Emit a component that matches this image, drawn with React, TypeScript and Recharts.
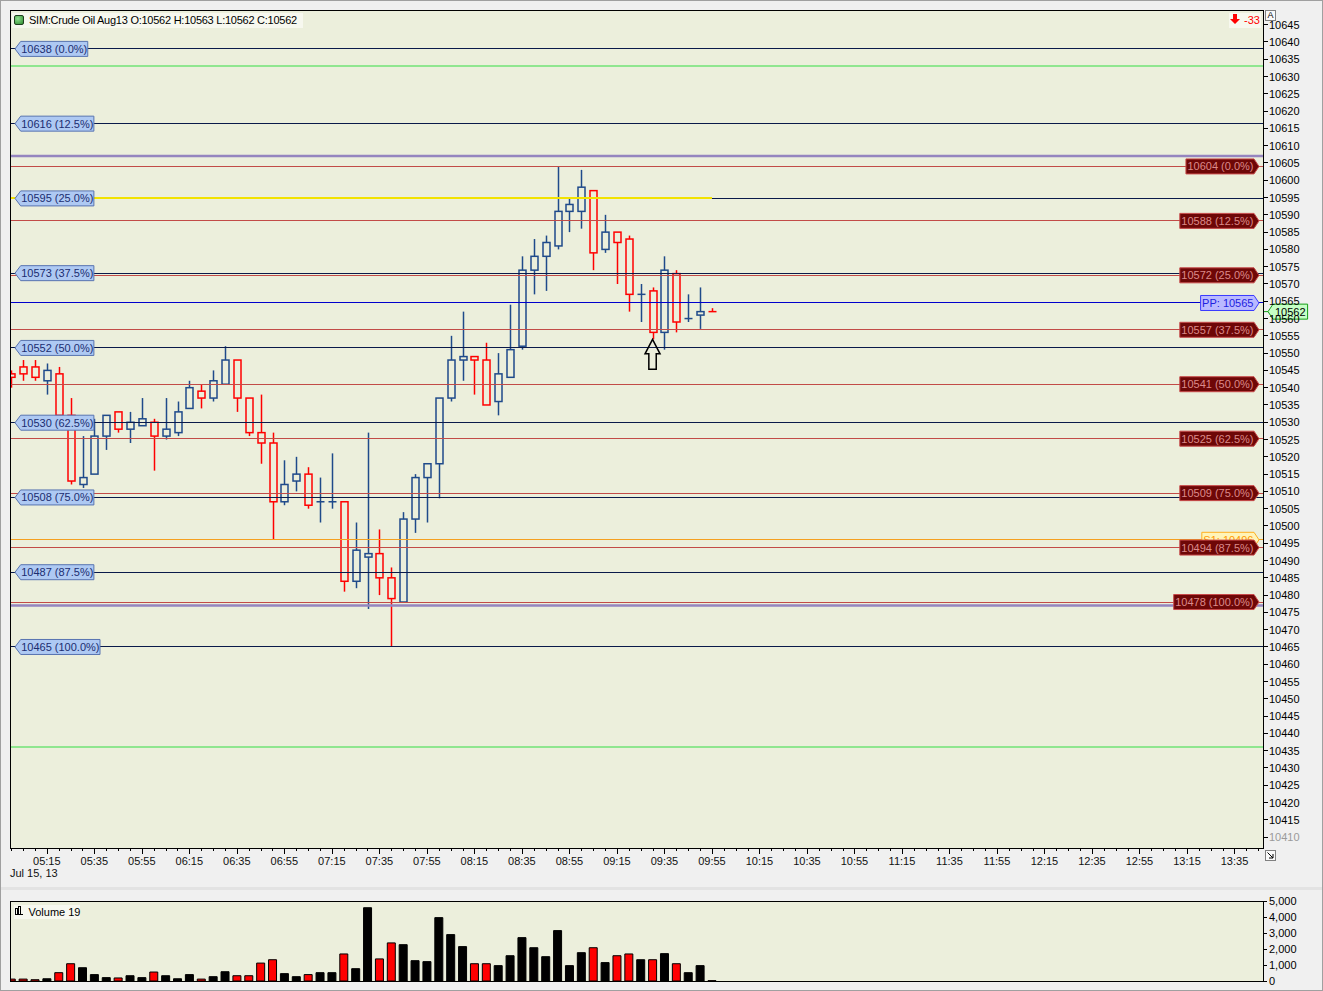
import React from 'react';
import { ComposedChart, Bar, XAxis, YAxis, ReferenceLine, ReferenceDot, Cell } from 'recharts';

const FONT = '"Liberation Sans", Arial, sans-serif';

// ---------- DATA ----------
const opens = [10544,10546,10546,10542,10544,10532,10512,10515,10526,10533,10528,10529,10530,10526,10527,10534,10539,10537,10541,10548,10537,10527,10524,10507,10513,10515,10507,10507,10507,10484,10491,10492,10485,10478,10502,10514,10518,10537,10548,10549,10548,10536,10543,10552,10574,10578,10581,10591,10591,10597,10580,10585,10583,10567,10568,10556,10573,10560,10561,10562];
const highs = [10545,10548,10548,10547,10546,10537,10526,10531,10532,10533,10533,10537,10531,10537,10536,10542,10541,10545,10552,10548,10537,10538,10527,10519,10520,10517,10514,10521,10507,10501,10527,10499,10488,10504,10515,10518,10537,10555,10562,10549,10553,10550,10564,10578,10583,10584,10604,10595,10603,10597,10590,10585,10584,10570,10569,10578,10574,10567,10569,10563];
const lows = [10540,10542,10542,10538,10531,10512,10511,10515,10522,10527,10524,10529,10516,10525,10526,10534,10534,10536,10541,10533,10526,10518,10496,10506,10510,10505,10501,10505,10481,10482,10476,10480,10465,10478,10498,10501,10508,10536,10542,10538,10535,10532,10543,10551,10567,10568,10580,10585,10586,10574,10579,10570,10562,10559,10554,10551,10556,10559,10557,10562];
const closes = [10543,10544,10543,10545,10532,10513,10514,10526,10532,10528,10530,10531,10526,10528,10533,10540,10537,10542,10548,10537,10527,10524,10507,10512,10515,10506,10507,10507,10484,10493,10492,10485,10479,10502,10514,10518,10537,10548,10549,10548,10535,10544,10551,10574,10578,10582,10591,10593,10598,10579,10585,10582,10567,10567,10556,10574,10559,10560,10562,10562];
const volumes = [120,120,80,140,520,1080,830,400,210,190,330,210,560,330,140,400,120,270,580,330,330,1120,1330,460,270,400,520,520,1690,770,4580,1380,2380,2270,1270,1210,3960,2900,2150,1080,1080,960,1580,2710,2080,1520,3150,960,1770,2080,1150,1580,1690,1330,1330,1710,1080,520,960,19];

const timeLabels = ['05:15','05:35','05:55','06:15','06:35','06:55','07:15','07:35','07:55','08:15','08:35','08:55','09:15','09:35','09:55','10:15','10:35','10:55','11:15','11:35','11:55','12:15','12:35','12:55','13:15','13:35'];
const firstLabelIndex = 3;
const labelEvery = 4;
const dateLabel = 'Jul 15, 13';

const leftFibLevels = [10638, 10616.375, 10594.75, 10573.125, 10551.5, 10529.875, 10508.25, 10486.625, 10465];
const leftFibLabels = ['10638', '10616', '10595', '10573', '10552', '10530', '10508', '10487', '10465'];
const rightFibLevels = [10604, 10588.25, 10572.5, 10556.75, 10541, 10525.25, 10509.5, 10493.75, 10478];
const rightFibLabels = ['10604', '10588', '10572', '10557', '10541', '10525', '10509', '10494', '10478'];
const fibPcts = ['0.0', '12.5', '25.0', '37.5', '50.0', '62.5', '75.0', '87.5', '100.0'];
const pivotLevel = 10564.5;
const pivotLabel = '10565';
const s1Level = 10496;
const s1Label = '10496';
const greenLevels = [10633, 10436];
const purpleLevels = [10607, 10477];
const yellowLevel = 10595;
const lastPrice = 10562;
const markerBar = 54;
const markerPrice = 10554;
const headerText = 'SIM:Crude Oil Aug13 O:10562 H:10563 L:10562 C:10562';
const pnlText = '-33';
const volumeTitle = 'Volume 19';

const priceTicks = Array.from({ length: 48 }, (_, k) => 10410 + k * 5);
const volumeTicks = [0, 1000, 2000, 3000, 4000, 5000];
const xTicks = Array.from({ length: 106 }, (_, k) => k);

// ---------- STYLE ----------
const BG = '#ecefdc';
const NAVY = '#0a1a4a';
const FIBRED = '#c24b47';
const UPC = '#1f4a8a';
const DNC = '#ff0000';
const X_DOMAIN: [number, number] = [-0.1, 105.4];
const Y_DOMAIN: [number, number] = [10406.85, 10649.25];

const lastIdx = opens.length - 1;
const isDown = (o: number, c: number, i: number) => c < o || (c === o && i === lastIdx);

const candles = opens.map((o, i) => ({
  x: i,
  open: o,
  high: highs[i],
  low: lows[i],
  close: closes[i],
  range: [lows[i], highs[i]],
  volume: volumes[i],
}));

const CW: Record<string, number> = { ' ': 3.06, '(': 3.66, ')': 3.66, '.': 3.06, '%': 9.78, 'P': 7.34, 'S': 7.34, ':': 3.06 };
const textW = (s: string) => s.split('').reduce((a, c) => a + (CW[c] ?? 6.12), 0);

const CandleShape = (props: any) => {
  const { x, y, width, height, payload } = props;
  if (x == null || !payload) return null;
  const top = Math.min(y, y + height);
  const h = Math.abs(height);
  const span = payload.high - payload.low;
  const ppu = span > 0 ? h / span : 0;
  const py = (p: number) => top + (payload.high - p) * ppu;
  const cx = Math.round(x + width / 2) + 0.5;
  const color = isDown(payload.open, payload.close, payload.x) ? DNC : UPC;
  const yo = py(payload.open);
  const yc = py(payload.close);
  const bTop = Math.min(yo, yc);
  const bBot = Math.max(yo, yc);
  const yH = py(payload.high);
  const yL = py(payload.low);
  const sw = 1.5;
  return (
    <g>
      {yH < bTop && <line x1={cx} x2={cx} y1={yH} y2={bTop} stroke={color} strokeWidth={sw} />}
      {yL > bBot && <line x1={cx} x2={cx} y1={bBot} y2={yL} stroke={color} strokeWidth={sw} />}
      {bBot - bTop < 1 ? (
        <line x1={cx - 4} x2={cx + 4} y1={bTop} y2={bTop} stroke={color} strokeWidth={sw} />
      ) : (
        <rect x={cx - 3.5} y={bTop} width={7} height={bBot - bTop} fill="none" stroke={color} strokeWidth={sw} />
      )}
    </g>
  );
};

const LeftTag = (props: any) => {
  const { viewBox, tagText } = props;
  if (!viewBox) return null;
  const x0 = viewBox.x;
  const yc = viewBox.y;
  const w = textW(tagText) + 1;
  const bx = x0 + 10.7;
  const pts = `${x0 + 5},${yc} ${bx},${yc - 7.5} ${bx + w},${yc - 7.5} ${bx + w},${yc + 7.5} ${bx},${yc + 7.5}`;
  return (
    <g>
      <polygon points={pts} fill="#aec9f3" stroke="#5874b0" strokeWidth={1} />
      <text x={bx + 0.5} y={yc + 4} fontSize={11} fontFamily={FONT} fill="#1b2d70">{tagText}</text>
    </g>
  );
};

const RightTag = (props: any) => {
  const { viewBox, tagText, fill, stroke, color } = props;
  if (!viewBox) return null;
  const xr = viewBox.x + viewBox.width;
  const yc = viewBox.y;
  const w = textW(tagText) + 2;
  const tip = xr - 4;
  const br = xr - 9;
  const bl = br - w;
  const pts = `${bl},${yc - 7.5} ${br},${yc - 7.5} ${tip},${yc} ${br},${yc + 7.5} ${bl},${yc + 7.5}`;
  return (
    <g>
      <polygon points={pts} fill={fill} stroke={stroke} strokeWidth={1} />
      <text x={bl + 1.5} y={yc + 4} fontSize={11} fontFamily={FONT} fill={color}>{tagText}</text>
    </g>
  );
};

const PriceTag = (props: any) => {
  const { viewBox, tagText } = props;
  if (!viewBox) return null;
  const xa = viewBox.x + viewBox.width;
  const yc = viewBox.y;
  const tipX = xa + 5;
  const bl = tipX + 5;
  const w = textW(tagText) + 4;
  const pts = `${tipX},${yc} ${bl},${yc - 7.5} ${bl + w},${yc - 7.5} ${bl + w},${yc + 7.5} ${bl},${yc + 7.5}`;
  return (
    <g>
      <line x1={xa} x2={tipX} y1={yc} y2={yc} stroke="#129a12" strokeWidth={1} />
      <polygon points={pts} fill="#c6ffc6" stroke="#149f14" strokeWidth={1} />
      <text x={bl + 2} y={yc + 4} fontSize={11} fontFamily={FONT} fill="#000">{tagText}</text>
    </g>
  );
};

const ArrowShape = (props: any) => {
  const { cx, cy } = props;
  if (cx == null || cy == null) return null;
  const pts = [
    [cx, cy], [cx + 7.5, cy + 14.5], [cx + 3.7, cy + 14.5], [cx + 3.7, cy + 30],
    [cx - 3.7, cy + 30], [cx - 3.7, cy + 14.5], [cx - 7.5, cy + 14.5],
  ].map((p) => p.join(',')).join(' ');
  return <polygon points={pts} fill="none" stroke="#000" strokeWidth={1.5} />;
};

const PriceTick = (props: any) => {
  const { x, y, payload } = props;
  return (
    <text x={x} y={y} dy={4} fontSize={11} fontFamily={FONT} textAnchor="start" fill={payload.value === priceTicks[0] ? '#9a9a9a' : '#000'}>
      {payload.value}
    </text>
  );
};

const VolumeTick = (props: any) => {
  const { x, y, payload } = props;
  return (
    <text x={x} y={y} dy={4} fontSize={11} fontFamily={FONT} textAnchor="start" fill="#000">
      {Number(payload.value).toLocaleString('en-US')}
    </text>
  );
};

const TimeTick = (props: any) => {
  const { x, y, payload } = props;
  const i = payload.value;
  const major = i >= firstLabelIndex && (i - firstLabelIndex) % labelEvery === 0;
  const label = major ? timeLabels[(i - firstLabelIndex) / labelEvery] : null;
  const lx = Math.round(x) + 0.5;
  return (
    <g>
      <line x1={lx} x2={lx} y1={y} y2={y + (major ? 6 : 3)} stroke="#000" strokeWidth={1} />
      {label && (
        <text x={x} y={y + 17} textAnchor="middle" fontSize={11} fontFamily={FONT} fill="#111">{label}</text>
      )}
    </g>
  );
};

export default function App() {
  return (
    <div style={{ position: 'absolute', left: 0, top: 0, width: 1323, height: 991, background: '#f0f0f0', overflow: 'hidden', fontFamily: FONT }}>
      {/* plot backgrounds */}
      <div style={{ position: 'absolute', left: 10, top: 10, width: 1253, height: 838, background: BG }} />
      <div style={{ position: 'absolute', left: 10, top: 901, width: 1253, height: 80, background: BG }} />
      <div style={{ position: 'absolute', left: 0, top: 887, width: 1323, height: 3, background: '#e3e3e3' }} />

      {/* price chart */}
      <div style={{ position: 'absolute', left: 0, top: 0 }}>
        <ComposedChart width={1323} height={900} data={candles} margin={{ top: 10, left: 10, right: 4, bottom: 12 }}>
          <XAxis
            dataKey="x"
            type="number"
            domain={X_DOMAIN}
            allowDataOverflow
            ticks={xTicks}
            interval={0}
            tickLine={false}
            tickSize={0}
            tickMargin={0}
            axisLine={false}
            height={40}
            tick={<TimeTick />}
          />
          <YAxis
            orientation="right"
            type="number"
            domain={Y_DOMAIN}
            allowDataOverflow
            ticks={priceTicks}
            interval={0}
            width={56}
            tickSize={5}
            tickMargin={1}
            axisLine={false}
            tickLine={{ stroke: '#000', shapeRendering: 'crispEdges' }}
            tick={<PriceTick />}
          />
          {greenLevels.map((lv) => (
            <ReferenceLine key={'g' + lv} y={lv} stroke="#8fe68f" strokeWidth={2} shapeRendering="crispEdges" />
          ))}
          {purpleLevels.map((lv) => (
            <ReferenceLine key={'p' + lv} y={lv} stroke="#9585bf" strokeWidth={2.5} />
          ))}
          {leftFibLevels.map((lv) => (
            <ReferenceLine key={'lf' + lv} y={lv} stroke={NAVY} strokeWidth={1} shapeRendering="crispEdges" />
          ))}
          {rightFibLevels.map((lv) => (
            <ReferenceLine key={'rf' + lv} y={lv} stroke={FIBRED} strokeWidth={1} shapeRendering="crispEdges" />
          ))}
          <ReferenceLine y={pivotLevel} stroke="#0000cc" strokeWidth={1} shapeRendering="crispEdges" />
          <ReferenceLine y={s1Level} stroke="#f5a020" strokeWidth={1} shapeRendering="crispEdges" />
          <ReferenceLine
            segment={[{ x: X_DOMAIN[0], y: yellowLevel }, { x: lastIdx, y: yellowLevel }]}
            stroke="#f2e200"
            strokeWidth={2}
            shapeRendering="crispEdges"
          />

          <Bar dataKey="range" barSize={8} shape={<CandleShape />} isAnimationActive={false} />

          <ReferenceDot x={markerBar} y={markerPrice} shape={<ArrowShape />} />

          {leftFibLevels.map((lv, k) => (
            <ReferenceLine key={'lt' + lv} y={lv} stroke="none" label={<LeftTag tagText={`${leftFibLabels[k]} (${fibPcts[k]}%)`} />} />
          ))}
          <ReferenceLine
            y={s1Level}
            stroke="none"
            label={<RightTag tagText={`S1: ${s1Label}`} fill="#fff4b8" stroke="#ffb020" color="#ff9900" />}
          />
          <ReferenceLine
            y={pivotLevel}
            stroke="none"
            label={<RightTag tagText={`PP: ${pivotLabel}`} fill="#b9b9ff" stroke="#3a3aff" color="#2020e0" />}
          />
          {rightFibLevels.map((lv, k) => (
            <ReferenceLine
              key={'rt' + lv}
              y={lv}
              stroke="none"
              label={<RightTag tagText={`${rightFibLabels[k]} (${fibPcts[k]}%)`} fill="#6e0707" stroke="#c84a4a" color="#dc8a8a" />}
            />
          ))}
          <ReferenceLine y={lastPrice} stroke="none" label={<PriceTag tagText={String(lastPrice)} />} />
        </ComposedChart>
      </div>

      {/* volume chart */}
      <div style={{ position: 'absolute', left: 0, top: 891 }}>
        <ComposedChart width={1323} height={100} data={candles} margin={{ top: 10, left: 10, right: 4, bottom: 10 }}>
          <XAxis dataKey="x" type="number" domain={X_DOMAIN} allowDataOverflow ticks={xTicks} hide />
          <YAxis
            orientation="right"
            type="number"
            domain={[0, 5000]}
            ticks={volumeTicks}
            interval={0}
            width={56}
            tickSize={4}
            tickMargin={2}
            axisLine={false}
            tickLine={{ stroke: '#000', shapeRendering: 'crispEdges' }}
            tick={<VolumeTick />}
          />
          <Bar dataKey="volume" barSize={8} isAnimationActive={false}>
            {candles.map((c, i) => (
              <Cell key={i} fill={isDown(c.open, c.close, i) ? '#ff0000' : '#000000'} stroke="#000" strokeWidth={1} />
            ))}
          </Bar>
        </ComposedChart>
      </div>

      {/* frames */}
      <div style={{ position: 'absolute', left: 10, top: 10, width: 1254, height: 839, border: '1px solid #000', boxSizing: 'border-box', pointerEvents: 'none' }} />
      <div style={{ position: 'absolute', left: 10, top: 901, width: 1254, height: 81, border: '1px solid #000', boxSizing: 'border-box', pointerEvents: 'none' }} />
      <div style={{ position: 'absolute', left: 0, top: 0, width: 1323, height: 991, border: '1px solid #a0a0a0', boxSizing: 'border-box', pointerEvents: 'none' }} />

      {/* header */}
      <div style={{ position: 'absolute', left: 12, top: 13, height: 15, width: 291, background: '#f7f8ef' }}>
        <div style={{ position: 'absolute', left: 2, top: 2, width: 8, height: 8, borderRadius: 2, background: 'radial-gradient(circle at 35% 35%, #8fe08f, #2f8a2f)', border: '1px solid #1f3f1f' }} />
        <div style={{ position: 'absolute', left: 17, top: 0, fontSize: 11, lineHeight: '15px', color: '#000', whiteSpace: 'nowrap', letterSpacing: '-0.25px' }}>{headerText}</div>
      </div>

      {/* PnL */}
      <div style={{ position: 'absolute', left: 1229, top: 13, width: 32, height: 15, background: '#f7f8ef' }}>
        <svg width={10} height={11} style={{ position: 'absolute', left: 1, top: 1 }}>
          <polygon points="3,0 7,0 7,5 10,5 5,10 0,5 3,5" fill="#ff0000" />
        </svg>
        <div style={{ position: 'absolute', left: 15, top: 0, fontSize: 11, lineHeight: '15px', color: '#ff0000' }}>{pnlText}</div>
      </div>

      {/* small icons */}
      <div style={{ position: 'absolute', left: 1265, top: 10, width: 11, height: 11, border: '1px solid #808080', background: '#fafafa', boxSizing: 'border-box', fontSize: 9, lineHeight: '9px', textAlign: 'center', color: '#000' }}>A</div>
      <div style={{ position: 'absolute', left: 1265, top: 850, width: 11, height: 11, border: '1px solid #808080', background: '#fafafa', boxSizing: 'border-box' }}>
        <svg width={9} height={9} style={{ position: 'absolute', left: 0, top: 0 }}>
          <line x1={1.5} y1={1.5} x2={7} y2={7} stroke="#000" strokeWidth={1} />
          <polyline points="7,3 7,7 3,7" fill="none" stroke="#000" strokeWidth={1} />
        </svg>
      </div>

      {/* date */}
      <div style={{ position: 'absolute', left: 10, top: 867, fontSize: 11, lineHeight: '13px', color: '#111' }}>{dateLabel}</div>

      {/* volume title */}
      <div style={{ position: 'absolute', left: 14, top: 905, width: 66, height: 14, background: '#f7f8ef' }}>
        <svg width={8} height={9} style={{ position: 'absolute', left: 1, top: 1 }}>
          <rect x={0.5} y={2.5} width={2} height={6} fill="none" stroke="#000" strokeWidth={1} />
          <rect x={3.5} y={0.5} width={2} height={8} fill="none" stroke="#000" strokeWidth={1} />
          <line x1={0} y1={8.5} x2={8} y2={8.5} stroke="#000" />
        </svg>
        <div style={{ position: 'absolute', left: 14.5, top: 0, fontSize: 11, lineHeight: '14px', color: '#000', whiteSpace: 'nowrap' }}>{volumeTitle}</div>
      </div>
    </div>
  );
}
